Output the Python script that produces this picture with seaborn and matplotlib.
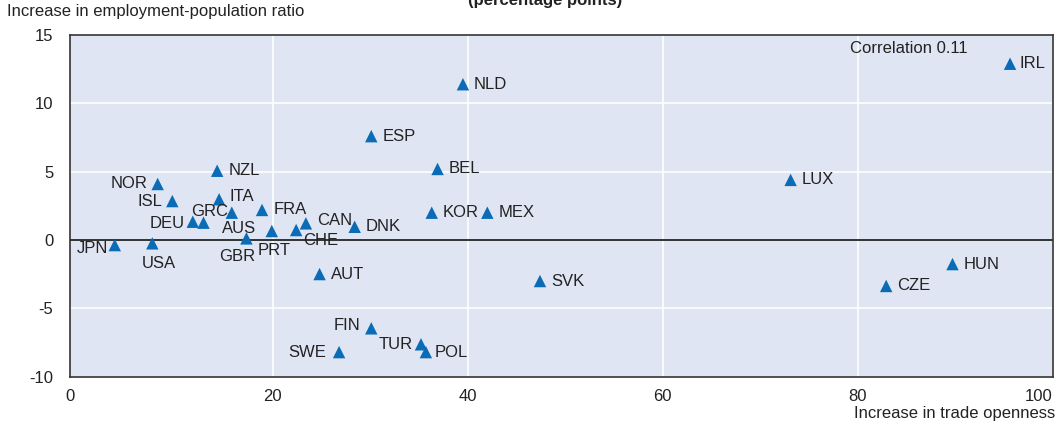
import pandas as pd
import matplotlib
matplotlib.use("Agg")
import matplotlib.pyplot as plt
import matplotlib.transforms as mtransforms
import seaborn as sns

# data
countries = ["IRL", "NLD", "ESP", "BEL", "LUX", "NZL", "NOR", "ISL", "ITA", "GRC",
             "FRA", "DEU", "AUS", "GBR", "PRT", "CHE", "CAN", "DNK", "JPN", "USA",
             "AUT", "KOR", "MEX", "SVK", "HUN", "CZE", "FIN", "SWE", "TUR", "POL"]
trade_openness = [95.6, 39.5, 30.1, 36.9, 73.1, 14.3, 8.2, 9.7, 14.5, 15.8,
                  18.9, 11.8, 12.9, 17.3, 19.9, 22.4, 23.4, 28.4, 3.8, 7.65,
                  24.8, 36.3, 42.0, 47.4, 89.7, 82.9, 30.1, 26.8, 35.2, 35.7]
employment_ratio = [12.9, 11.4, 7.6, 5.2, 4.4, 5.07, 4.1, 2.85, 2.98, 2.0,
                    2.2, 1.34, 1.27, 0.12, 0.66, 0.73, 1.22, 0.97, -0.37, -0.24,
                    -2.49, 2.0, 2.0, -3.0, -1.76, -3.36, -6.46, -8.2, -7.63, -8.2]
correlation = 0.11

# label placement: offset in points and horizontal alignment
default_place = ((8, 0), "left")
label_place = {
    "NOR": ((-7.5, 0), "right"), "ISL": ((-7.5, 0), "right"), "GRC": ((-2.5, 0.7), "right"),
    "DEU": ((-6, -1.5), "right"), "AUS": ((13, -4), "left"), "GBR": ((-7, -12.7), "center"),
    "PRT": ((2, -14), "center"), "CHE": ((18, -7.7), "center"), "CAN": ((8, 2), "left"),
    "JPN": ((-5, -2.7), "right"), "USA": ((5, -14.4), "center"), "ITA": ((7.7, 2), "left"),
    "FIN": ((-7.7, 1.7), "right"), "SWE": ((-9, 0), "right"), "TUR": ((-6, 0), "right"),
    "POL": ((6.5, 0), "left"), "IRL": ((6.7, 0), "left"),
}

df = pd.DataFrame({"country": countries, "trade": trade_openness, "emp": employment_ratio})

sns.set_style("white")
plt.rcParams["font.family"] = ["Liberation Sans", "DejaVu Sans"]
plt.rcParams["font.size"] = 12

fig = plt.figure(figsize=(10.59, 4.26), dpi=100)
ax = fig.add_axes([0.0661, 0.1157, 0.9282, 0.8021])
ax.set_facecolor("#dfe5f2")

sns.scatterplot(data=df, x="trade", y="emp", marker="^", s=80, color="#0a6bb6",
                edgecolor="none", ax=ax, zorder=3)

for c, x, y in zip(countries, trade_openness, employment_ratio):
    off, ha = label_place.get(c, default_place)
    ax.annotate(c, (x, y), xytext=off, textcoords="offset points", ha=ha, va="center",
                fontsize=12, color="#222222", zorder=4)

ax.set_xlim(-0.79, 100)
ax.set_ylim(-10, 15)
ax.set_xticks([0, 20, 40, 60, 80, 100])
ax.set_yticks([-10, -5, 0, 5, 10, 15])
ax.set_yticklabels(["-10", "-5", "0", "5", "10", "15"])
ax.grid(True, color="white", linewidth=1.2)
ax.set_axisbelow(True)
ax.axhline(0, color="#222222", linewidth=1.3, zorder=2)
for s in ax.spines.values():
    s.set_color("#333333")
    s.set_linewidth(1.2)
ax.tick_params(axis="both", direction="in", length=5, color="#555555",
               labelsize=12, labelcolor="#222222")
ax.tick_params(axis="x", pad=9)
ax.tick_params(axis="y", pad=12)

# the 0 tick sits on the left frame in the reference
ax.xaxis.get_gridlines()[0].set_visible(False)
ax.xaxis.get_major_ticks()[0].tick1line.set_visible(False)
xlabels = ax.get_xticklabels()
xlabels[0].set_transform(xlabels[0].get_transform() +
                         mtransforms.ScaledTranslation(-0.077, 0, fig.dpi_scale_trans))
xlabels[-1].set_horizontalalignment("right")
ax.set_xlabel("")
ax.set_ylabel("")

ax.text(85.2, 14.0, f"Correlation {correlation}", ha="center", va="center",
        fontsize=12, color="#222222")
fig.text(0.007, 0.972, "Increase in employment-population ratio", ha="left", va="center",
         fontsize=12, color="#222222")
fig.text(0.996, 0.0305, "Increase in trade openness", ha="right", va="center",
         fontsize=12, color="#222222")
fig.text(0.515, 0.988, "(percentage points)", ha="center", va="baseline",
         fontsize=12, fontweight="bold", color="#222222")

fig.savefig("out.png", dpi=100)
